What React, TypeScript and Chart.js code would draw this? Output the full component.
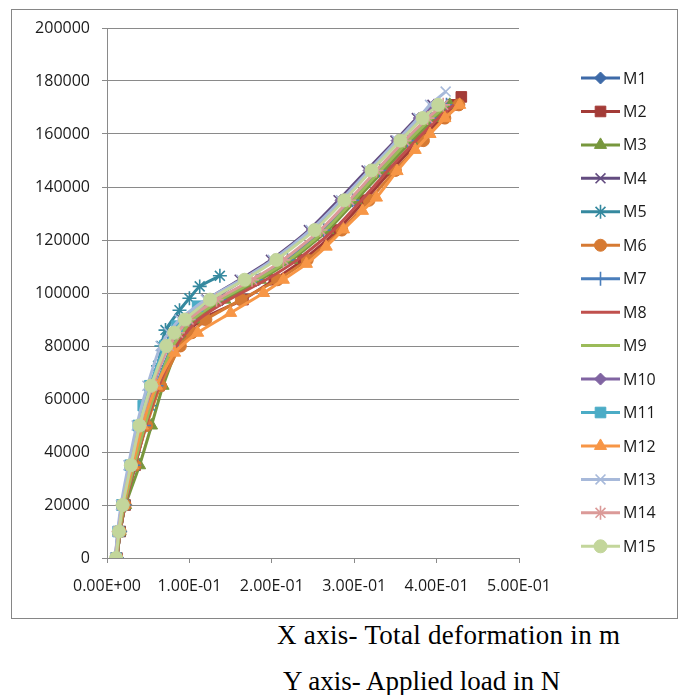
import React, { useEffect, useRef } from 'react';
import { Chart, registerables } from 'chart.js';
import * as helpers from 'chart.js/helpers';

Chart.register(...registerables);

const SERIES_NAMES = ['M1', 'M2', 'M3', 'M4', 'M5', 'M6', 'M7', 'M8', 'M9', 'M10', 'M11', 'M12', 'M13', 'M14', 'M15'];

const X_TICK_LABELS = ['0.00E+00', '1.00E-01', '2.00E-01', '3.00E-01', '4.00E-01', '5.00E-01'];
const Y_TICK_LABELS = ['0', '20000', '40000', '60000', '80000', '100000', '120000', '140000', '160000', '180000', '200000'];

// Applied load in N
const LOAD_STEPS = [0, 10000, 20000, 35000, 50000, 65000, 80000, 85000, 90000, 97500, 105000, 112500, 123750, 135000, 146250, 157500, 166000, 171000];
const LOAD_M2 = [0, 10000, 20000, 35000, 50000, 65000, 80000, 85000, 90000, 97500, 105000, 112500, 123750, 135000, 146250, 157500, 166000, 171000, 174000];
const LOAD_M13 = [0, 10000, 20000, 35000, 50000, 65000, 80000, 85000, 90000, 97500, 105000, 112500, 123750, 135000, 146250, 157500, 166000, 171000, 176000];
const LOAD_M5 = [0, 10000, 20000, 35000, 50000, 57500, 65000, 72500, 80000, 86000, 93500, 98000, 102500, 106500];
const LOAD_M11 = [0, 10000, 20000, 35000, 50000, 57500, 65000, 80000, 87500, 95000];
const LOAD_M12 = [0, 10000, 20000, 35000, 50000, 65000, 77500, 85000, 92500, 100000, 105000, 111000, 117500, 124000, 131000, 136000, 146000, 154000, 160000, 166000, 171000];

// Total deformation in m
const DEF_M1 = [0.012, 0.016, 0.022, 0.034, 0.047, 0.062, 0.081, 0.092, 0.105, 0.140, 0.184, 0.222, 0.266, 0.300, 0.333, 0.367, 0.395, 0.414];
const DEF_M2 = [0.012, 0.016, 0.022, 0.034, 0.047, 0.063, 0.085, 0.098, 0.114, 0.165, 0.203, 0.238, 0.280, 0.313, 0.345, 0.379, 0.406, 0.423, 0.430];
const DEF_M3 = [0.012, 0.016, 0.0225, 0.0395, 0.054, 0.068, 0.087, 0.097, 0.109, 0.143, 0.186, 0.224, 0.268, 0.302, 0.336, 0.370, 0.398, 0.416];
const DEF_M4 = [0.010, 0.0135, 0.0185, 0.0285, 0.040, 0.054, 0.070, 0.079, 0.091, 0.121, 0.161, 0.199, 0.245, 0.281, 0.315, 0.350, 0.376, 0.395];
const DEF_M5 = [0.012, 0.016, 0.022, 0.034, 0.047, 0.052, 0.057, 0.062, 0.066, 0.071, 0.088, 0.100, 0.1125, 0.137];
const DEF_M6 = [0.012, 0.016, 0.022, 0.034, 0.048, 0.065, 0.089, 0.103, 0.120, 0.163, 0.207, 0.243, 0.285, 0.318, 0.350, 0.384, 0.410, 0.427];
const DEF_M7 = [0.012, 0.0155, 0.021, 0.032, 0.045, 0.060, 0.079, 0.090, 0.103, 0.137, 0.181, 0.219, 0.263, 0.298, 0.331, 0.365, 0.393, 0.412];
const DEF_M8 = [0.012, 0.016, 0.022, 0.034, 0.047, 0.063, 0.084, 0.096, 0.111, 0.148, 0.193, 0.231, 0.275, 0.309, 0.341, 0.375, 0.402, 0.421];
const DEF_M9 = [0.012, 0.0155, 0.021, 0.033, 0.046, 0.061, 0.080, 0.091, 0.104, 0.138, 0.182, 0.221, 0.265, 0.299, 0.332, 0.366, 0.394, 0.413];
const DEF_M10 = [0.011, 0.014, 0.019, 0.030, 0.0415, 0.056, 0.074, 0.084, 0.096, 0.127, 0.166, 0.203, 0.249, 0.284, 0.318, 0.352, 0.379, 0.397];
const DEF_M11 = [0.011, 0.0135, 0.018, 0.028, 0.038, 0.044, 0.052, 0.070, 0.085, 0.110];
const DEF_M12 = [0.011, 0.0145, 0.0195, 0.031, 0.043, 0.060, 0.082, 0.110, 0.150, 0.190, 0.214, 0.242, 0.266, 0.287, 0.310, 0.327, 0.352, 0.374, 0.392, 0.410, 0.428];
const DEF_M13 = [0.010, 0.013, 0.017, 0.026, 0.036, 0.049, 0.065, 0.075, 0.088, 0.120, 0.163, 0.201, 0.247, 0.284, 0.318, 0.352, 0.378, 0.392, 0.411];
const DEF_M14 = [0.011, 0.014, 0.019, 0.029, 0.040, 0.055, 0.075, 0.086, 0.099, 0.133, 0.176, 0.214, 0.259, 0.294, 0.327, 0.361, 0.389, 0.408];
const DEF_M15 = [0.011, 0.0145, 0.019, 0.029, 0.0395, 0.0535, 0.072, 0.0815, 0.0945, 0.125, 0.167, 0.2055, 0.252, 0.288, 0.321, 0.356, 0.383, 0.402];

const SERIES_LOADS = [LOAD_STEPS, LOAD_M2, LOAD_STEPS, LOAD_STEPS, LOAD_M5, LOAD_STEPS, LOAD_STEPS, LOAD_STEPS, LOAD_STEPS, LOAD_STEPS, LOAD_M11, LOAD_M12, LOAD_M13, LOAD_STEPS, LOAD_STEPS];
const SERIES_DEFS = [DEF_M1, DEF_M2, DEF_M3, DEF_M4, DEF_M5, DEF_M6, DEF_M7, DEF_M8, DEF_M9, DEF_M10, DEF_M11, DEF_M12, DEF_M13, DEF_M14, DEF_M15];

const COLORS = ['#3E6AA8', '#A33B37', '#77973D', '#634C80', '#35899F', '#D67A33', '#4A7EBB', '#C0504D', '#9BBB59', '#8064A2', '#4BACC6', '#F79646', '#A7B9DA', '#DB9A98', '#C3D69B'];
const POINT_STYLES = ['rectRot', 'rect', 'triangle', 'crossRot', 'star', 'circle', 'cross', 'circle', 'circle', 'rectRot', 'rect', 'triangle', 'crossRot', 'star', 'circle'];
const POINT_RADII = [6, 7.5, 7, 7, 7, 6, 7, 0, 0, 6, 7.5, 7, 7, 7, 6.5];

const GRID = '#8a8a8a';
const FONT = "'Open Sans', 'DejaVu Sans', sans-serif";

const frameAndLegend = {
  id: 'frameAndLegend',
  beforeDraw(chart: any) {
    const ctx = chart.ctx;
    ctx.save();
    ctx.fillStyle = '#ffffff';
    ctx.fillRect(0, 0, chart.width, chart.height);
    ctx.strokeStyle = '#868686';
    ctx.lineWidth = 1;
    ctx.strokeRect(11.5, 9.5, 666, 609);
    ctx.restore();
  },
  afterDraw(chart: any) {
    const ctx = chart.ctx;
    ctx.save();
    chart.data.datasets.forEach((ds: any, i: number) => {
      const y = 78 + i * 33.45;
      ctx.strokeStyle = ds.borderColor;
      ctx.lineWidth = 3;
      ctx.beginPath();
      ctx.moveTo(581, y);
      ctx.lineTo(620, y);
      ctx.stroke();
      if (ds.pointRadius > 0) {
        ctx.fillStyle = ds.pointBackgroundColor;
        ctx.strokeStyle = ds.pointBorderColor;
        ctx.lineWidth = ds.pointBorderWidth;
        helpers.drawPoint(ctx, { pointStyle: ds.pointStyle, radius: ds.pointRadius, rotation: 0, borderWidth: ds.pointBorderWidth }, 600.5, y);
      }
      ctx.fillStyle = '#1a1a1a';
      ctx.font = `16px ${FONT}`;
      ctx.textBaseline = 'middle';
      ctx.textAlign = 'left';
      ctx.fillText(ds.label, 623, y + 1);
    });
    ctx.restore();
  },
};

export default function App() {
  const ref = useRef<HTMLCanvasElement | null>(null);

  useEffect(() => {
    if (!ref.current) return;
    const datasets = SERIES_NAMES.map((name, i) => {
      const style = POINT_STYLES[i];
      const lineMarker = style === 'cross' || style === 'crossRot' || style === 'star';
      return {
        label: name,
        data: SERIES_DEFS[i].map((d, k) => ({ x: d, y: SERIES_LOADS[i][k] })),
        borderColor: COLORS[i],
        backgroundColor: COLORS[i],
        pointBackgroundColor: COLORS[i],
        pointBorderColor: COLORS[i],
        pointStyle: style,
        pointRadius: POINT_RADII[i],
        pointBorderWidth: lineMarker ? 1.6 : 1,
        borderWidth: 3,
        tension: 0.2,
        showLine: true,
        fill: false,
        order: SERIES_NAMES.length - i,
      };
    });

    const chart = new Chart(ref.current, {
      type: 'scatter',
      data: { datasets },
      options: {
        animation: false,
        responsive: false,
        events: [],
        layout: { padding: { left: 0, right: 165, top: 28, bottom: 0 } },
        plugins: { legend: { display: false }, tooltip: { enabled: false } },
        scales: {
          x: {
            type: 'linear',
            min: 0,
            max: 0.5,
            afterFit: (s: any) => { s.height = 62; },
            ticks: {
              stepSize: 0.1,
              padding: 14,
              color: '#1a1a1a',
              font: { family: FONT, size: 16 },
              callback: (v: any) => X_TICK_LABELS[Math.round(Number(v) / 0.1)] ?? '',
            },
            grid: { drawOnChartArea: false, drawTicks: true, tickLength: 5, color: GRID },
            border: { color: GRID, width: 1 },
          },
          y: {
            type: 'linear',
            min: 0,
            max: 200000,
            afterFit: (s: any) => { s.width = 107; },
            ticks: {
              stepSize: 20000,
              padding: 12,
              color: '#1a1a1a',
              font: { family: FONT, size: 16 },
              callback: (v: any) => Y_TICK_LABELS[Math.round(Number(v) / 20000)] ?? '',
            },
            grid: { color: GRID, tickLength: 5, drawTicks: true },
            border: { color: GRID, width: 1 },
          },
        },
      },
      plugins: [frameAndLegend],
    } as any);
    return () => chart.destroy();
  }, []);

  const textStyle: React.CSSProperties = {
    position: 'absolute',
    fontFamily: "'Liberation Serif', 'DejaVu Serif', serif",
    fontSize: 27,
    lineHeight: '27px',
    whiteSpace: 'nowrap',
    color: '#000',
  };

  return (
    <div style={{ position: 'absolute', left: 0, top: 0, width: 684, height: 695, background: '#fff', overflow: 'hidden' }}>
      <canvas ref={ref} width={684} height={620} style={{ display: 'block', width: 684, height: 620 }} />
      <div style={{ ...textStyle, left: 277, top: 622, letterSpacing: '0.3px' }}>X axis- Total deformation in m</div>
      <div style={{ ...textStyle, left: 283, top: 668 }}>Y axis- Applied load in N</div>
    </div>
  );
}
